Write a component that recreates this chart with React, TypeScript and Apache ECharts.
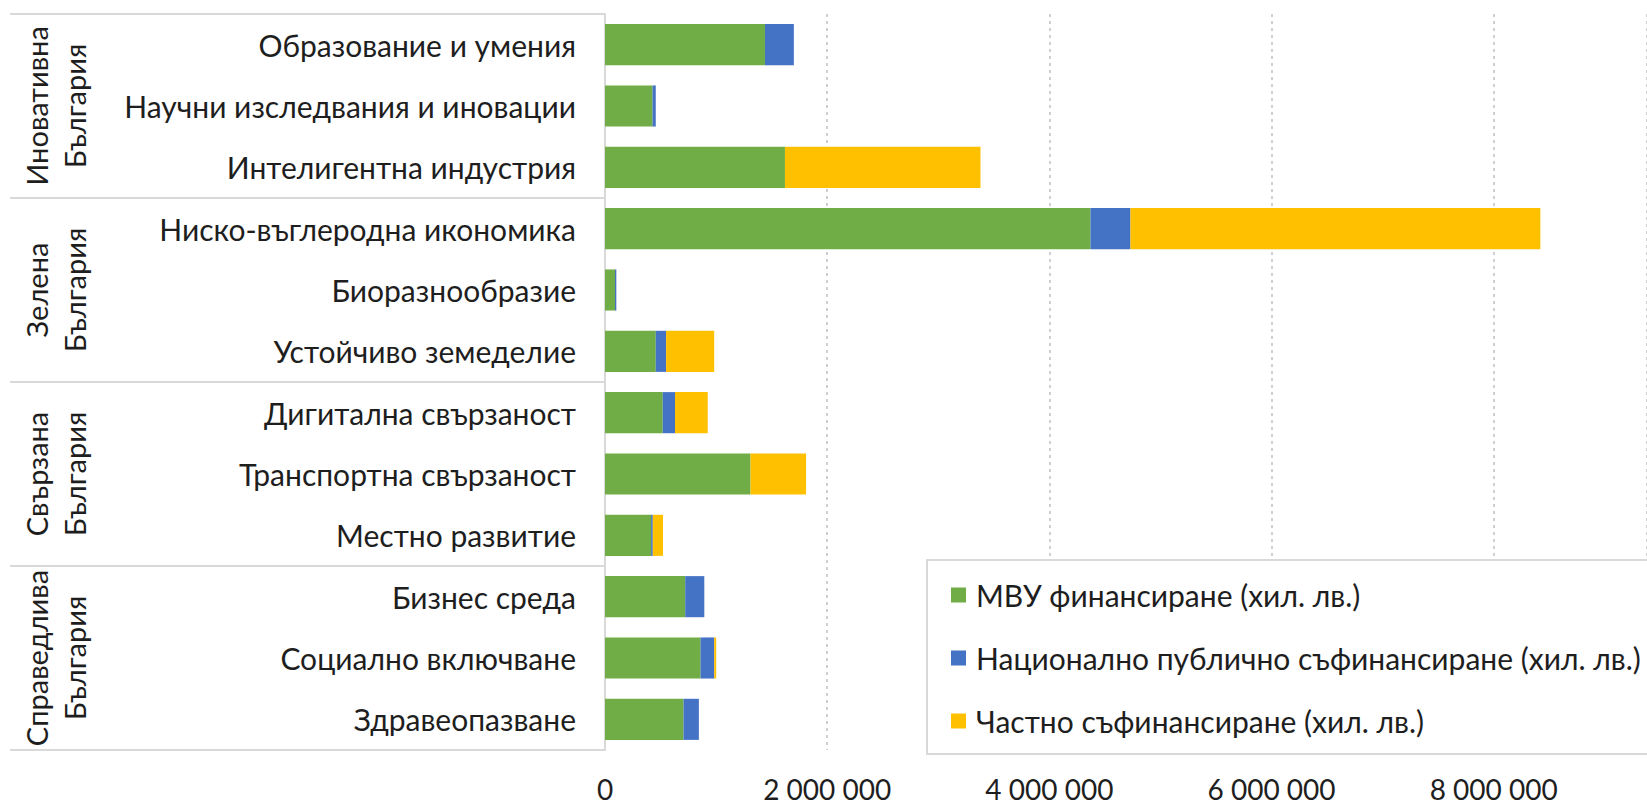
import React, { useEffect, useRef } from "react";
import * as echarts from "echarts";

const categories = [
  "Образование и умения",
  "Научни изследвания и иновации",
  "Интелигентна индустрия",
  "Ниско-въглеродна икономика",
  "Биоразнообразие",
  "Устойчиво земеделие",
  "Дигитална свързаност",
  "Транспортна свързаност",
  "Местно развитие",
  "Бизнес среда",
  "Социално включване",
  "Здравеопазване",
];

const groups = [
  "Иновативна\nБългария",
  "Зелена\nБългария",
  "Свързана\nБългария",
  "Справедлива\nБългария",
];

const seriesNames = [
  "МВУ финансиране (хил. лв.)",
  "Национално публично съфинансиране (хил. лв.)",
  "Частно съфинансиране (хил. лв.)",
];

const mvuValues = [1440000, 428000, 1620000, 4370000, 90000, 457000, 520000, 1310000, 415000, 722000, 860000, 707000];
const nationalValues = [260000, 29000, 0, 360000, 12000, 93000, 110000, 0, 15000, 172000, 123000, 138000];
const privateValues = [0, 0, 1760000, 3690000, 0, 433000, 295000, 500000, 92000, 0, 18000, 0];

const colors = ["#70AD47", "#4472C4", "#FFC000"];

const FONT = "Lato, 'Noto Sans', sans-serif";
const TEXT = "#1e1e1e";

const fmt = (v: number) => String(Math.round(v)).replace(/\B(?=(\d{3})+(?!\d))/g, " ");

export default function App() {
  const ref = useRef<HTMLDivElement>(null);
  useEffect(() => {
    if (!ref.current) return;
    const chart = echarts.init(ref.current, null, { renderer: "svg" });
    const valueSets = [mvuValues, nationalValues, privateValues];
    chart.setOption({
      animation: false,
      backgroundColor: "#ffffff",
      textStyle: { fontFamily: FONT },
      grid: { left: 605, right: 0, top: 14, bottom: 58, containLabel: false },
      legend: {
        orient: "vertical",
        left: 927,
        top: 560,
        padding: [19, 90, 17, 24],
        itemGap: 31,
        itemWidth: 15,
        itemHeight: 15,
        icon: "rect",
        backgroundColor: "#ffffff",
        borderColor: "#d9d9d9",
        borderWidth: 2,
        data: seriesNames,
        textStyle: { fontFamily: FONT, fontSize: 30, lineHeight: 32, color: TEXT, padding: [0, 0, 0, 5] },
      },
      xAxis: {
        type: "value",
        min: 0,
        max: 9380000,
        interval: 2000000,
        axisLine: { show: false },
        axisTick: { show: false },
        splitLine: { show: true, lineStyle: { color: "#cfcfcf", width: 2, type: [3, 4] } },
        axisLabel: {
          fontFamily: FONT,
          fontSize: 28,
          color: TEXT,
          margin: 25,
          showMaxLabel: false,
          formatter: (v: number) => fmt(v),
        },
      },
      yAxis: [
        {
          type: "category",
          data: categories,
          inverse: true,
          position: "left",
          axisLine: { show: true, lineStyle: { color: "#d9d9d9", width: 2 } },
          axisTick: { show: false },
          axisLabel: { interval: 0, fontFamily: FONT, fontSize: 30, color: TEXT, margin: 29 },
        },
        {
          type: "category",
          data: groups,
          inverse: true,
          position: "left",
          axisLine: { show: false },
          axisTick: { show: true, interval: 0, length: 595, lineStyle: { color: "#d9d9d9", width: 2 } },
          axisLabel: {
            interval: 0,
            rotate: 90,
            margin: 550,
            align: "center",
            verticalAlign: "middle",
            fontFamily: FONT,
            fontSize: 29,
            lineHeight: 38,
            color: TEXT,
          },
          splitLine: { show: false },
        },
      ],
      series: seriesNames.map((name, i) => ({
        name,
        type: "bar",
        stack: "total",
        yAxisIndex: 0,
        barCategoryGap: "33%",
        itemStyle: { color: colors[i] },
        data: valueSets[i],
      })),
    });
    return () => chart.dispose();
  }, []);
  return (
    <div
      ref={ref}
      style={{ position: "absolute", left: 0, top: 0, width: 1647, height: 808 }}
    />
  );
}
